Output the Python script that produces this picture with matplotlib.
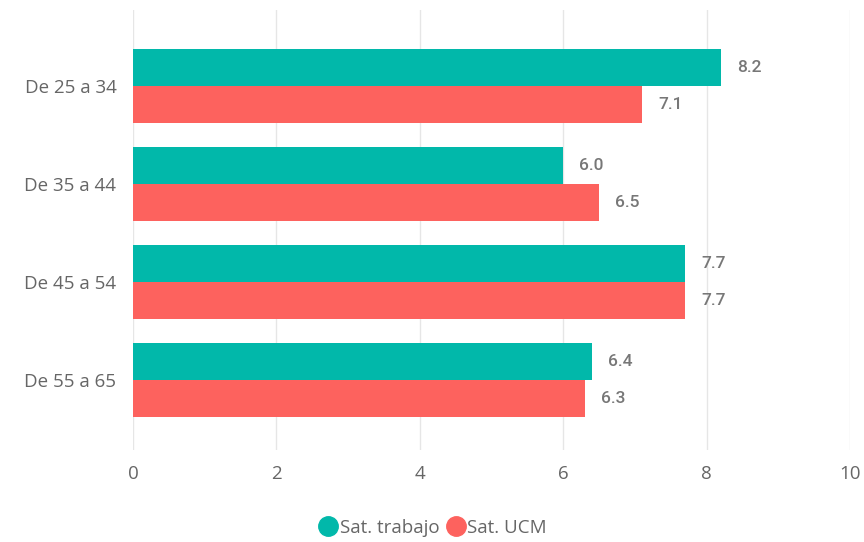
import matplotlib
matplotlib.use("Agg")
from matplotlib import pyplot as plt
from matplotlib.lines import Line2D
import numpy as np

# Chart data
categories = ["De 25 a 34", "De 35 a 44", "De 45 a 54", "De 55 a 65"]
sat_trabajo = [8.2, 6.0, 7.7, 6.4]
sat_ucm = [7.1, 6.5, 7.7, 6.3]
series_names = ["Sat. trabajo", "Sat. UCM"]
xticks = [0, 2, 4, 6, 8, 10]

teal = "#01B8AA"
red = "#FD625E"
grey = "#666666"

plt.rcParams['font.family'] = ['Open Sans', 'DejaVu Sans']

fig = plt.figure(figsize=(8.64, 5.42), dpi=100)
ax = fig.add_axes([0.154, 0.170, 0.830, 0.812])

y = np.arange(len(categories))
h = 0.38
b1 = ax.barh(y - h / 2, sat_trabajo, height=h, color=teal, zorder=3)
b2 = ax.barh(y + h / 2, sat_ucm, height=h, color=red, zorder=3)

for bars, vals in [(b1, sat_trabajo), (b2, sat_ucm)]:
    for bar, v in zip(bars, vals):
        ax.annotate("%.1f" % v, (v, bar.get_y() + bar.get_height() / 2),
                    xytext=(16, 0), textcoords="offset pixels",
                    va="center", ha="left", fontsize=12.5, color="#777777",
                    family=["Roboto", "DejaVu Sans"], fontweight="medium")

ax.set_xlim(0, 10)
ax.set_ylim(3.714, -0.776)
ax.set_xticks(xticks)
ax.set_xticklabels([str(t) for t in xticks])
ax.set_yticks(y)
ax.set_yticklabels(categories)
ax.grid(axis="x", color="#e6e6e6", linewidth=1, zorder=0)
for s in ax.spines.values():
    s.set_visible(False)
ax.tick_params(length=0, labelsize=13.5, labelcolor=grey)
ax.tick_params(axis="x", pad=11)
ax.tick_params(axis="y", pad=12)

handles = [Line2D([], [], marker="o", linestyle="", markersize=14, color=c)
           for c in (teal, red)]
fig.legend(handles, series_names, loc="center", bbox_to_anchor=(0.5, 0.026),
           ncol=2, frameon=False, fontsize=13.5, labelcolor=grey,
           handletextpad=0.0, columnspacing=0.3, handlelength=1.2)

fig.savefig("out.png", dpi=100)
